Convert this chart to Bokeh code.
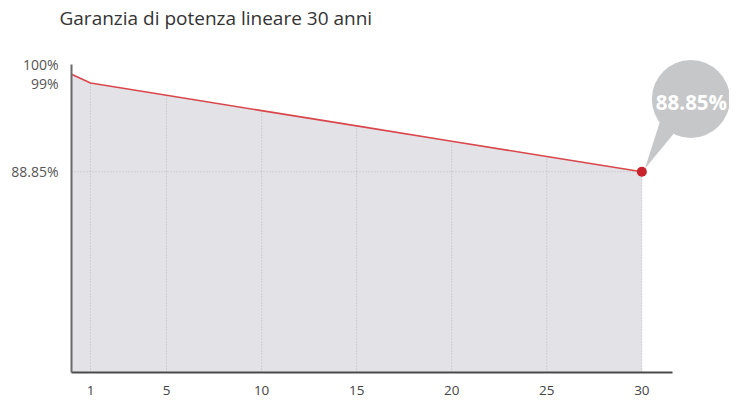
from bokeh.plotting import figure
from bokeh.models import FixedTicker
from bokeh.embed import file_html
from bokeh.resources import INLINE
from bokeh.core.properties import value

# ---------------- data ----------------
title_text = "Garanzia di potenza lineare 30 anni"
years = [0, 1, 5, 10, 15, 20, 25, 30]
power = [100, 99, 97.6, 95.85, 94.1, 92.35, 90.6, 88.85]
x_tick_years = [1, 5, 10, 15, 20, 25, 30]
y_tick_labels = ["88.85%", "99%", "100%"]

# ---------------- layout / style ----------------
FONT = "Open Sans"
W, H = 729, 401
BORDER_L, BORDER_B, BORDER_T = 71, 29, 32
FW, FH = W - BORDER_L, H - BORDER_B - BORDER_T
X_RANGE = (0, 34.61)
Y_RANGE = (65.89, 104.67)
SX = FW / (X_RANGE[1] - X_RANGE[0])   # px per year
SY = FH / (Y_RANGE[1] - Y_RANGE[0])   # px per percent

p = figure(width=W, height=H, output_backend="svg", toolbar_location=None,
           x_range=X_RANGE, y_range=Y_RANGE, title=title_text,
           min_border_left=BORDER_L, min_border_right=0,
           min_border_top=BORDER_T, min_border_bottom=BORDER_B)
p.outline_line_color = None
p.xgrid.visible = False
p.ygrid.visible = False
p.background_fill_color = "white"
p.border_fill_color = "white"

p.title.align = "left"
p.title.offset = -12
p.title.standoff = 5
p.title.text_font = FONT
p.title.text_font_style = "normal"
p.title.text_font_size = "19px"
p.title.text_color = "#333333"

y_base = Y_RANGE[0]
val_at = dict(zip(years, power))

# area
p.varea(x=years, y1=[y_base] * len(years), y2=power, fill_color="#e3e3e7")

# dotted grid lines under the curve
p.segment(x0=x_tick_years, y0=[y_base] * len(x_tick_years),
          x1=x_tick_years, y1=[val_at[t] for t in x_tick_years],
          line_color="#b8b8bb", line_width=1, line_dash="1 2")
p.segment(x0=[0], y0=[power[-1]], x1=[years[-1]], y1=[power[-1]],
          line_color="#b8b8bb", line_width=1, line_dash="1 2")

# line
p.line(years, power, line_color="#d9464c", line_width=1.6)

# callout bubble anchored to the last point (offsets in px)
xl, yl = years[-1], power[-1]
BUBBLE_FILL = "#c6c7c9"
tail_dx, tail_dy = [3, 18, 34], [-3, -50, -41]
p.patch([xl + d / SX for d in tail_dx], [yl - d / SY for d in tail_dy],
        fill_color=BUBBLE_FILL, line_color=None)
p.scatter([xl + 49 / SX], [yl + 73 / SY], size=78, marker="circle",
          fill_color=BUBBLE_FILL, line_color=None)
p.scatter([xl], [yl], size=10, marker="circle",
          fill_color="#c8232c", line_color=None)
p.text([xl], [yl], text=[y_tick_labels[0]], x_offset=14, y_offset=-70,
       text_font=value(FONT), text_font_style="bold", text_font_size="20.5px",
       text_color="white", text_align="left", text_baseline="middle")

# axes
p.xaxis.ticker = FixedTicker(ticks=x_tick_years)
p.xaxis.bounds = (0, 31.6)
p.xaxis.major_tick_line_color = None
p.xaxis.minor_tick_line_color = None
p.xaxis.major_label_standoff = 7
p.xaxis.major_label_text_font = FONT
p.xaxis.major_label_text_font_size = "13.5px"
p.xaxis.major_label_text_color = "#444444"
p.xaxis.axis_line_color = "#4a4a4a"
p.xaxis.axis_line_width = 2

y_top_tick = 101.1
p.yaxis.ticker = FixedTicker(ticks=[power[-1], power[1], y_top_tick])
p.yaxis.major_label_overrides = {power[-1]: y_tick_labels[0],
                                 power[1]: y_tick_labels[1],
                                 y_top_tick: y_tick_labels[2]}
p.yaxis.bounds = (Y_RANGE[0], 101.15)
p.yaxis.major_tick_line_color = None
p.yaxis.minor_tick_line_color = None
p.yaxis.major_label_standoff = 7
p.yaxis.major_label_text_font = FONT
p.yaxis.major_label_text_font_size = "14px"
p.yaxis.major_label_text_color = "#555555"
p.yaxis.axis_line_color = "#6a6a6a"
p.yaxis.axis_line_width = 2

open("out.html", "w").write(file_html(p, INLINE))
